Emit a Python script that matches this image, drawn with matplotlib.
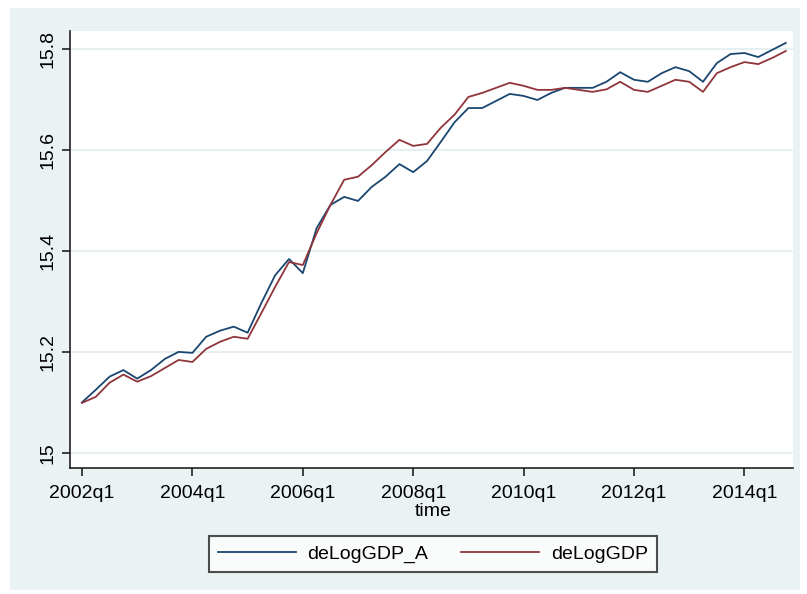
import matplotlib
matplotlib.use("Agg")
import matplotlib.pyplot as plt
from matplotlib.patches import Rectangle
from matplotlib.lines import Line2D

plt.rcParams['font.family'] = ['Liberation Sans', 'DejaVu Sans']

# quarterly index 0 = 2002q1 ... 51 = 2014q4
quarters = list(range(52))
delog_gdp_a = [15.100, 15.125, 15.151, 15.164, 15.147, 15.164, 15.186, 15.200, 15.198, 15.230,
               15.242, 15.250, 15.238, 15.297, 15.352, 15.384, 15.356, 15.445, 15.491, 15.507,
               15.499, 15.527, 15.547, 15.572, 15.556, 15.578, 15.616, 15.655, 15.683, 15.683,
               15.697, 15.711, 15.707, 15.699, 15.713, 15.723, 15.723, 15.723, 15.735, 15.754,
               15.739, 15.735, 15.752, 15.764, 15.756, 15.735, 15.772, 15.790, 15.792, 15.784,
               15.798, 15.812]
delog_gdp = [15.099, 15.111, 15.139, 15.155, 15.141, 15.152, 15.168, 15.184, 15.180, 15.206,
             15.220, 15.230, 15.226, 15.277, 15.329, 15.378, 15.372, 15.435, 15.491, 15.541,
             15.547, 15.570, 15.596, 15.620, 15.608, 15.612, 15.644, 15.670, 15.705, 15.713,
             15.723, 15.733, 15.727, 15.719, 15.719, 15.723, 15.719, 15.715, 15.720, 15.735,
             15.719, 15.715, 15.727, 15.739, 15.735, 15.715, 15.752, 15.764, 15.774, 15.770,
             15.782, 15.796]
xtick_pos = [0, 8, 16, 24, 32, 40, 48]
xtick_labels = ['2002q1', '2004q1', '2006q1', '2008q1', '2010q1', '2012q1', '2014q1']
ytick_vals = [15.0, 15.2, 15.4, 15.6, 15.8]
ytick_labels = ['15', '15.2', '15.4', '15.6', '15.8']

W, H = 807, 594
fig = plt.figure(figsize=(W/100, H/100), dpi=100)
fig.patch.set_facecolor('white')
bg = '#eaf2f3'
fig.patches.append(Rectangle((10/W, 4/H), 790/W, (590-8)/H, transform=fig.transFigure,
                             facecolor=bg, edgecolor='none', zorder=-10))

ax = fig.add_axes([70/W, 1-468/H, (793-70)/W, (468-31)/H])
ax.set_facecolor('white')
navy = '#1a476f'
maroon = '#90353b'
ax.plot(quarters, delog_gdp_a, color=navy, lw=1.3, label='deLogGDP_A')
ax.plot(quarters, delog_gdp, color=maroon, lw=1.3, label='deLogGDP')

fs = 14
ax.set_xlim(-0.87, 51.52)
ax.set_ylim(14.970, 15.8356)
ax.set_xticks(xtick_pos)
ax.set_xticklabels(xtick_labels, fontsize=fs)
ax.set_yticks(ytick_vals)
ax.set_yticklabels(ytick_labels, fontsize=fs, rotation=90, va='center')
ax.grid(axis='y', color='#e3edee', lw=1.2)
ax.set_axisbelow(True)
for s in ['top', 'right']:
    ax.spines[s].set_visible(False)
for s in ['left', 'bottom']:
    ax.spines[s].set_color('#222222')
    ax.spines[s].set_linewidth(1.2)
ax.tick_params(axis='both', direction='out', length=6, width=1.2, color='#222222', pad=4)
ax.tick_params(axis='x', pad=6)

fig.text(433/W, 1-512/H, 'time', ha='center', va='center', fontsize=fs)

handles = [Line2D([], [], color=navy, lw=1.3), Line2D([], [], color=maroon, lw=1.3)]
leg = fig.legend(handles, ['deLogGDP_A', 'deLogGDP'], loc='center',
                 bbox_to_anchor=(433/W, 1-554/H), ncol=2, fontsize=fs, frameon=True,
                 fancybox=False, edgecolor='#222222', handlelength=4.0, handletextpad=0.6,
                 columnspacing=1.7, borderpad=0.45)
leg.get_frame().set_linewidth(1.5)

fig.savefig('out.png', dpi=100, facecolor='white')
